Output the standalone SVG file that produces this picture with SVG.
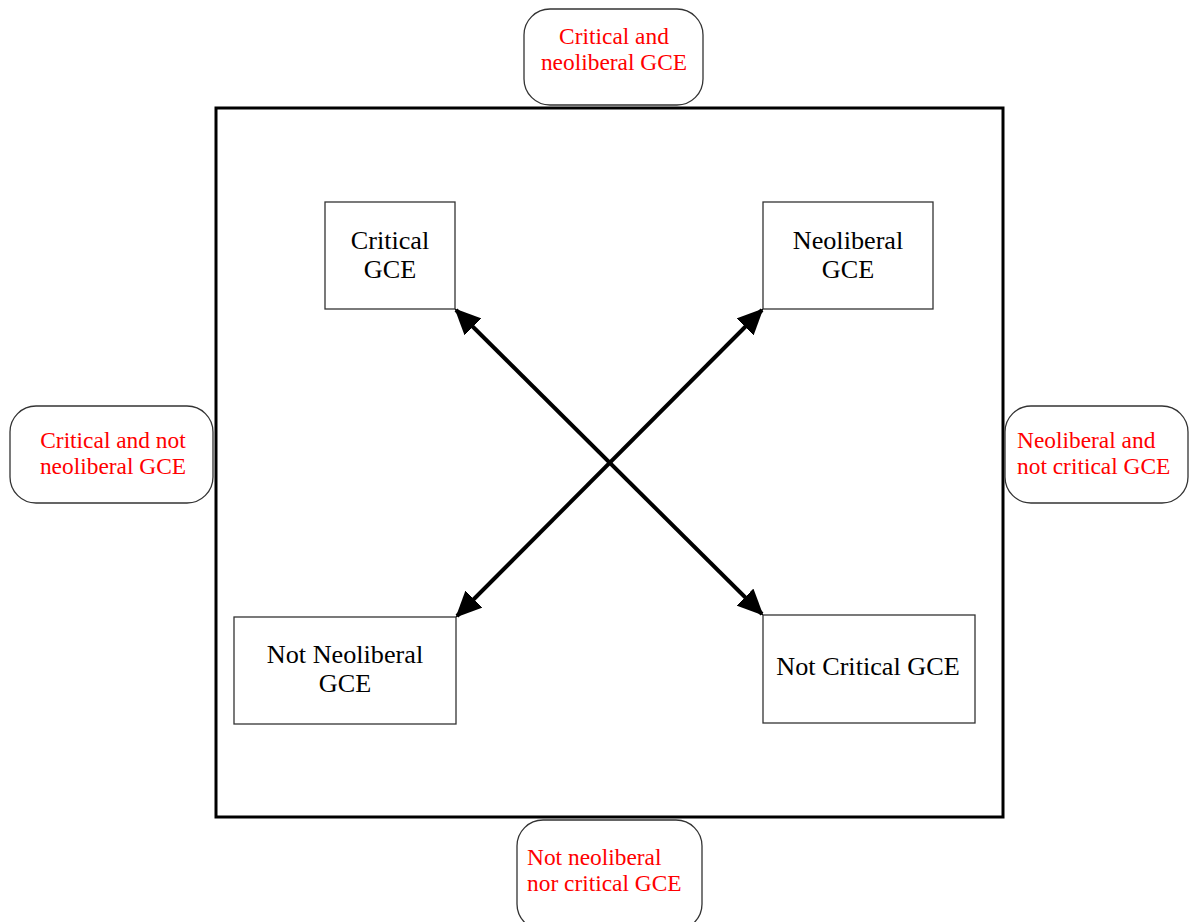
<svg xmlns="http://www.w3.org/2000/svg" width="1189" height="922" viewBox="0 0 1189 922">
<style>
.box{fill:#fff;stroke:#333;stroke-width:1.3}
.pill{fill:#fff;stroke:#333;stroke-width:1.3}
.blk{font-family:"Liberation Serif","Times New Roman",serif;font-size:26.2px;fill:#000}
.red{font-family:"Liberation Serif","Times New Roman",serif;font-size:23.4px;fill:#ff0000}
.conn{stroke:#000;stroke-width:4;fill:none}
</style>
<defs>
<marker id="ah" markerUnits="userSpaceOnUse" viewBox="0 0 26 24" refX="24" refY="12" markerWidth="26" markerHeight="24" orient="auto-start-reverse">
<path d="M0,0 L26,12 L0,24 Z" fill="#000"/>
</marker>
</defs>
<rect x="0" y="0" width="1189" height="922" fill="#fff"/>
<g id="frame"><rect x="216" y="108" width="787" height="709" fill="none" stroke="#000" stroke-width="3"/></g>
<g id="pill-top"><rect class="pill" x="524" y="9" width="179" height="96" rx="26"/>
<text class="red" x="614" y="44" text-anchor="middle">Critical and</text>
<text class="red" x="614" y="70" text-anchor="middle">neoliberal GCE</text></g>
<g id="pill-left"><rect class="pill" x="10" y="406" width="203" height="97" rx="26"/>
<text class="red" x="113" y="448" text-anchor="middle">Critical and not</text>
<text class="red" x="113" y="474" text-anchor="middle">neoliberal GCE</text></g>
<g id="pill-right"><rect class="pill" x="1005" y="406" width="183" height="97" rx="26"/>
<text class="red" x="1017" y="448">Neoliberal and</text>
<text class="red" x="1017" y="474">not critical GCE</text></g>
<g id="pill-bottom"><rect class="pill" x="517" y="820" width="185" height="110" rx="26"/>
<text class="red" x="527" y="865">Not neoliberal</text>
<text class="red" x="527" y="891">nor critical GCE</text></g>
<g id="critical"><rect class="box" x="325" y="202" width="130" height="107"/>
<text class="blk" x="390" y="249" text-anchor="middle">Critical</text>
<text class="blk" x="390" y="278" text-anchor="middle">GCE</text></g>
<g id="neoliberal"><rect class="box" x="763" y="202" width="170" height="107"/>
<text class="blk" x="848" y="249" text-anchor="middle">Neoliberal</text>
<text class="blk" x="848" y="278" text-anchor="middle">GCE</text></g>
<g id="not-neoliberal"><rect class="box" x="234" y="617" width="222" height="107"/>
<text class="blk" x="345" y="663" text-anchor="middle">Not Neoliberal</text>
<text class="blk" x="345" y="692" text-anchor="middle">GCE</text></g>
<g id="not-critical"><rect class="box" x="763" y="615" width="212" height="108"/>
<text class="blk" x="868" y="675" text-anchor="middle">Not Critical GCE</text></g>
<g id="connectors">
<line class="conn" x1="456" y1="310" x2="762" y2="614" marker-start="url(#ah)" marker-end="url(#ah)"/>
<line class="conn" x1="762" y1="310" x2="457" y2="616" marker-start="url(#ah)" marker-end="url(#ah)"/>
</g>
</svg>
